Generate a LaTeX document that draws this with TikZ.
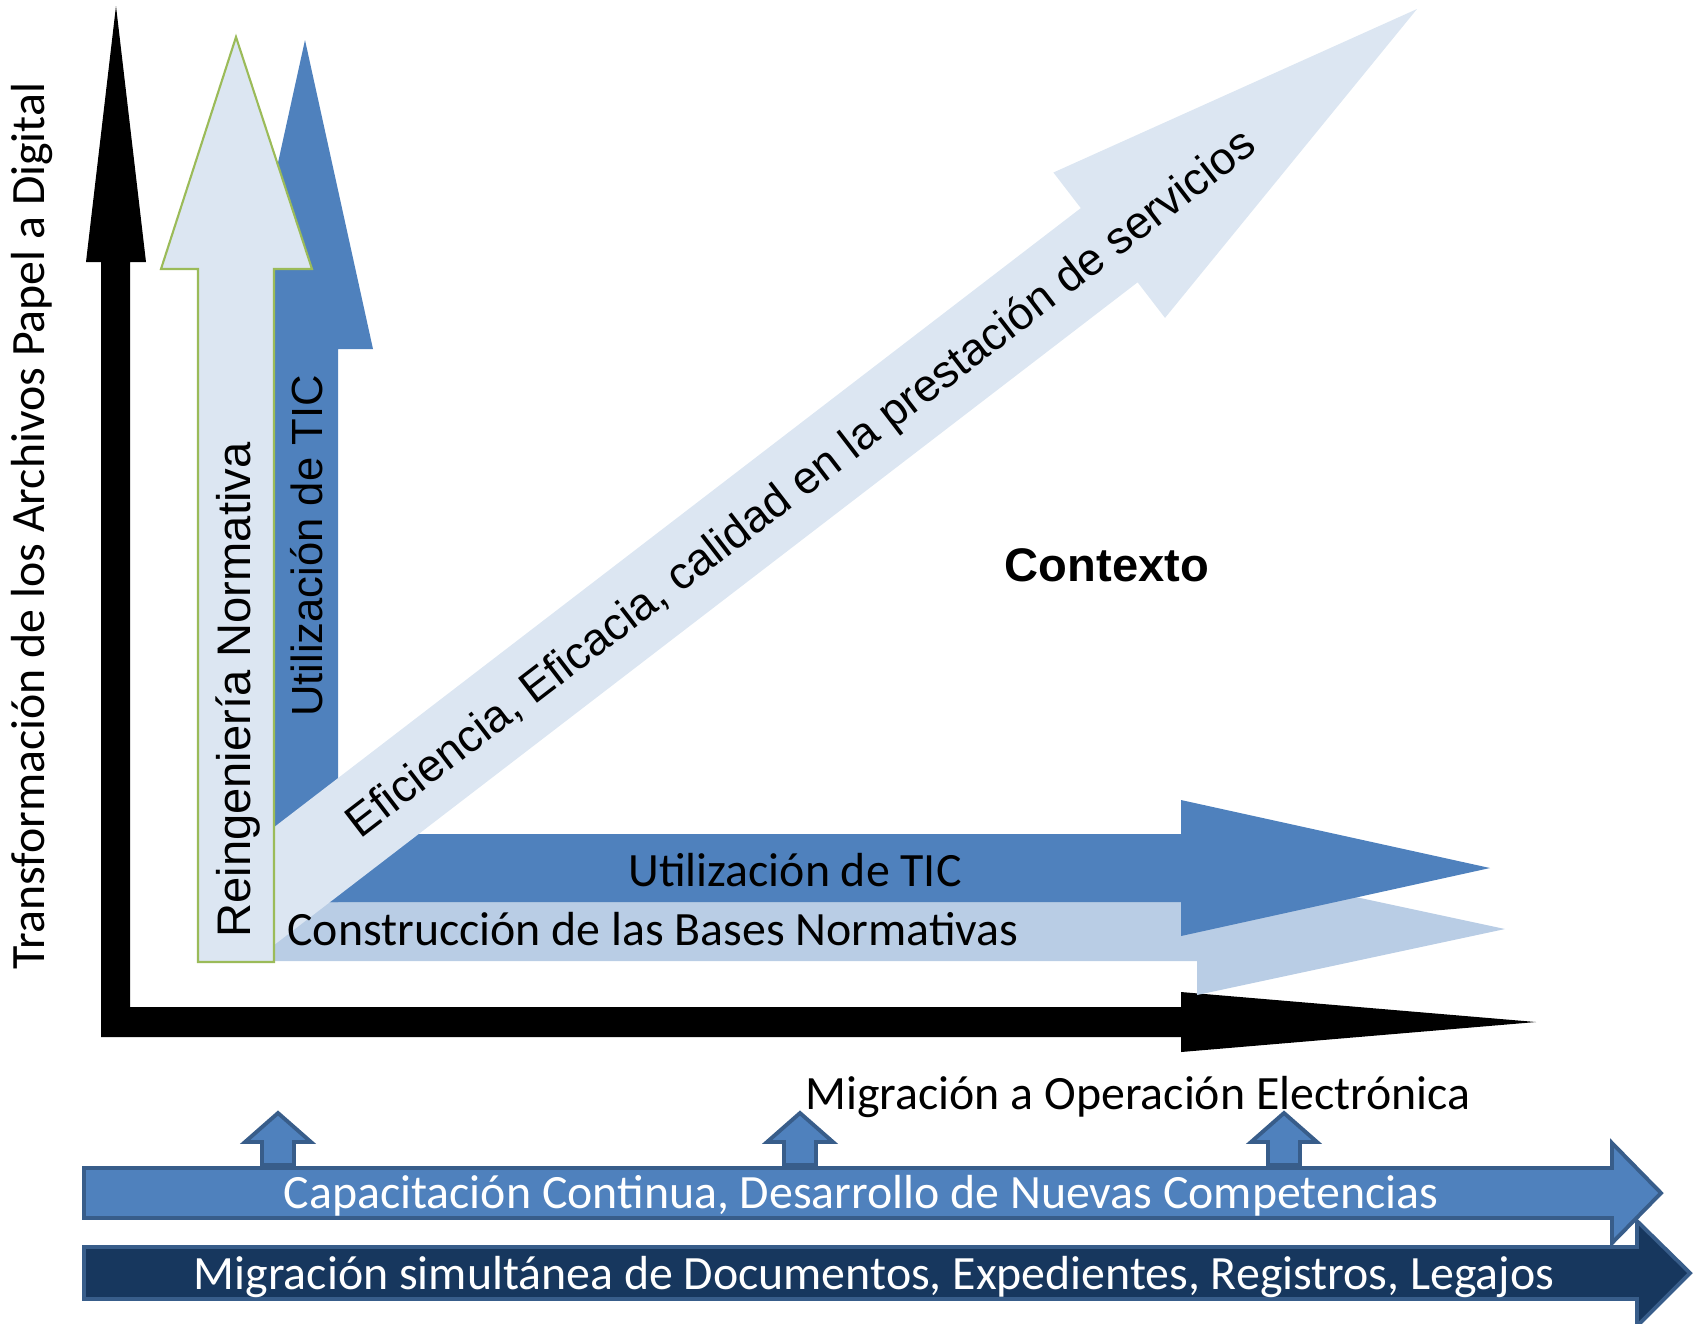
\documentclass[tikz,border=0pt]{standalone}
\usepackage{fontspec}
\setmainfont{Carlito}
\newfontfamily\arialfont{Liberation Sans}
\definecolor{ticblue}{HTML}{4F81BD}
\definecolor{baseblue}{HTML}{B9CDE5}
\definecolor{paleblue}{HTML}{DCE6F2}
\definecolor{normgreen}{HTML}{9BBB59}
\definecolor{edgeblue}{HTML}{385D8A}
\definecolor{navyblue}{HTML}{17375E}

\begin{document}
\begin{tikzpicture}[
            x=0.01cm, y=-0.01cm,
            texto/.style={inner sep=0pt, font=\fontsize{13.6pt}{16pt}\selectfont},
            textoarial/.style={inner sep=0pt, font=\arialfont\fontsize{13.4pt}{16pt}\selectfont},
            eixo/.style={fill=black},
            flechatic/.style={fill=ticblue},
            flechabase/.style={fill=baseblue},
            flechaclara/.style={fill=paleblue},
            flechanorma/.style={fill=paleblue, draw=normgreen, line width=0.6pt},
            barra/.style={draw=edgeblue, line width=1.1pt, fill=ticblue},
            barraescura/.style={draw=edgeblue, line width=1.1pt, fill=navyblue},
        ]
        \useasboundingbox (0,0) rectangle (1694,1323);

        % ejes
        \fill[eixo] (101,1037) -- (101,262) -- (86,262) -- (116,6) -- (146,262) -- (130,262)
            -- (130,1007) -- (1181,1007) -- (1181,992) -- (1536,1022) -- (1181,1052) -- (1181,1037) -- cycle;

        % flechas horizontales y verticales
        \fill[flechabase] (240,898) -- (1197,898) -- (1197,863) -- (1505,929) -- (1197,995) -- (1197,961) -- (240,961) -- cycle;
        \fill[flechatic] (240,834) -- (1181,834) -- (1181,800) -- (1490,868) -- (1181,936) -- (1181,902) -- (240,902) -- cycle;
        \fill[flechatic] (272,902) -- (272,349) -- (237,349) -- (305,40) -- (373,349) -- (338,349) -- (338,902) -- cycle;
        \fill[flechaclara] (211.6,875.1) -- (1080.8,208.1) -- (1053.4,172.5) -- (1417,9) -- (1165,317.9)
            -- (1137.6,282.3) -- (268.4,949.3) -- cycle;
        \filldraw[flechanorma] (198,962) -- (198,269) -- (161,269) -- (236,37) -- (312,269) -- (274,269) -- (274,962) -- cycle;

        % flechas de abajo
        \foreach \cx in {278,800,1284}
            \filldraw[barra] ({\cx-16},1165) -- ({\cx-16},1142) -- ({\cx-33},1142) -- (\cx,1113)
                -- ({\cx+33},1142) -- ({\cx+16},1142) -- ({\cx+16},1165) -- cycle;
        \filldraw[barra] (84,1168) -- (1612,1168) -- (1612,1143) -- (1661,1193) -- (1612,1243) -- (1612,1218) -- (84,1218) -- cycle;
        \filldraw[barraescura] (84,1247) -- (1637,1247) -- (1637,1221) -- (1690,1273) -- (1637,1326) -- (1637,1299) -- (84,1299) -- cycle;

        % textos
        \node[texto, rotate=90] (transf) at (32,526) {Transformación de los Archivos Papel a Digital};
        \node[textoarial, rotate=90] (reing) at (238,690) {Reingeniería Normativa};
        \node[textoarial, rotate=90, font=\arialfont\fontsize{12.4pt}{15pt}\selectfont] (ticv) at (307,546) {Utilización de TIC};
        \node[textoarial, rotate=37.5, font=\arialfont\fontsize{12.9pt}{15pt}\selectfont] (efic) at (802,485) {Eficiencia, Eficacia, calidad en la prestación de servicios};
        \node[texto] (tich) at (795,870) {Utilización de TIC};
        \node[texto] (bases) at (653,929) {Construcción de las Bases Normativas};
        \node[textoarial, font=\arialfont\bfseries\fontsize{13.4pt}{16pt}\selectfont] (contexto) at (1107,565) {Contexto};
        \node[texto] (migop) at (1138,1097) {Migración a Operación Electrónica};
        \node[texto, text=white] (capac) at (861,1196) {Capacitación Continua, Desarrollo de Nuevas Competencias};
        \node[texto, text=white] (migsim) at (874,1277) {Migración simultánea de Documentos, Expedientes, Registros, Legajos};

    \end{tikzpicture}
\end{document}
